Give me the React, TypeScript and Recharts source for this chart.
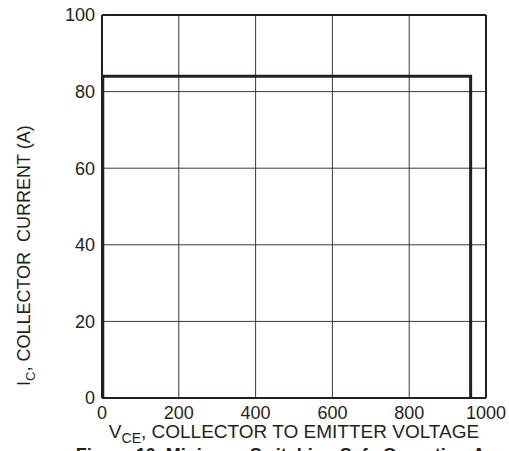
import React from "react"
import {
  LineChart,
  Line,
  XAxis,
  YAxis,
  CartesianGrid,
  ReferenceLine,
  Label,
} from "recharts"

// Safe operating area boundary (VCE in V, IC in A)
const vce = [2, 2, 960, 960]
const ic = [0, 84, 84, 0]

const xTicks = [0, 200, 400, 600, 800, 1000]
const yTicks = [0, 20, 40, 60, 80, 100]

const data = vce.map((v, i) => ({ vce: v, ic: ic[i] }))

const FONT = "'Liberation Sans', Arial, Helvetica, sans-serif"
const INK = "#231f20"

const XLabel = () => (
  <g>
    <text x={294} y={438} textAnchor="middle" fontFamily={FONT} fontSize={19} fill={INK}>
      V
      <tspan fontSize={14} dy={5}>CE</tspan>
      <tspan dy={-5}>, COLLECTOR TO EMITTER VOLTAGE</tspan>
    </text>
    <text
      x={294}
      y={461}
      textAnchor="middle"
      fontFamily={FONT}
      fontSize={18}
      fontWeight="bold"
      fill={INK}
    >
      Figure 10. Minimum Switching Safe Operating Area
    </text>
  </g>
)

const YLabel = () => (
  <text
    x={0}
    y={0}
    transform="translate(30, 386) rotate(-90)"
    fontFamily={FONT}
    fontSize={18}
    fill={INK}
  >
    I
    <tspan fontSize={13} dy={5}>C</tspan>
    <tspan dy={-5}>{", COLLECTOR\u00A0\u00A0CURRENT (A)"}</tspan>
  </text>
)

export default function App() {
  return (
    <div style={{ position: "absolute", left: 0, top: 0 }}>
      <LineChart
        width={509}
        height={451}
        data={data}
        margin={{ top: 15, right: 23, left: 0, bottom: 0 }}
      >
        <CartesianGrid stroke="#3a3a3a" strokeWidth={1} />
        <XAxis
          dataKey="vce"
          type="number"
          domain={[0, 1000]}
          ticks={xTicks}
          height={53}
          tickLine={false}
          tickMargin={2}
          axisLine={{ stroke: INK, strokeWidth: 2 }}
          tick={{ fill: INK, fontSize: 18, fontFamily: FONT }}
          interval={0}
        >
          <Label content={<XLabel />} />
        </XAxis>
        <YAxis
          type="number"
          domain={[0, 100]}
          ticks={yTicks}
          width={102}
          tickLine={false}
          tickMargin={1}
          axisLine={{ stroke: INK, strokeWidth: 2 }}
          tick={{ fill: INK, fontSize: 18, fontFamily: FONT }}
          interval={0}
        >
          <Label content={<YLabel />} />
        </YAxis>
        <ReferenceLine x={1000} stroke={INK} strokeWidth={2} />
        <ReferenceLine y={100} stroke={INK} strokeWidth={2} />
        <Line
          dataKey="ic"
          type="linear"
          stroke={INK}
          strokeWidth={3}
          dot={false}
          isAnimationActive={false}
        />
      </LineChart>
    </div>
  )
}
